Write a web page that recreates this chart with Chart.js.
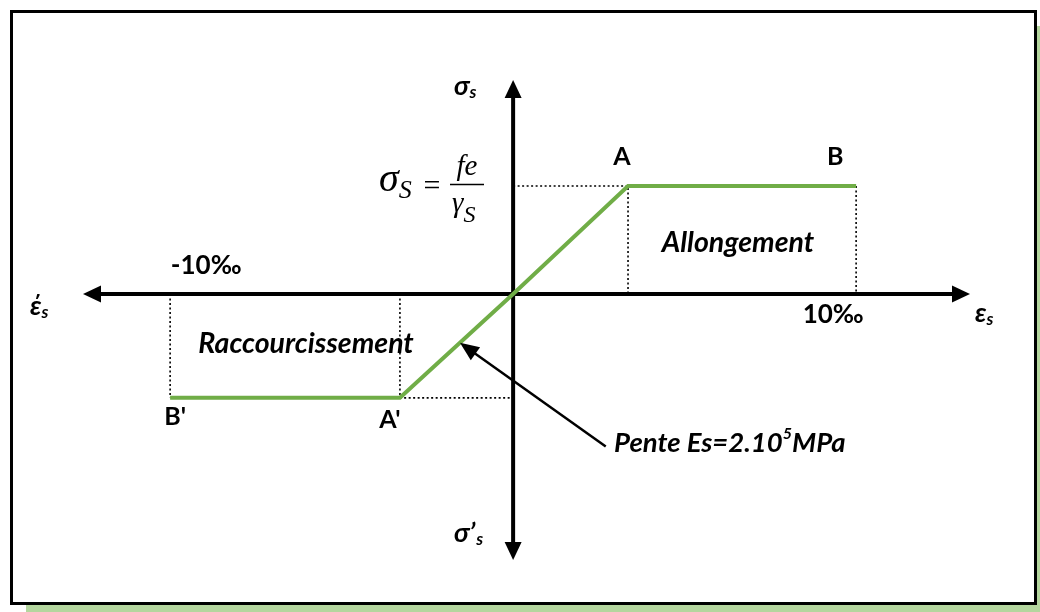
<!DOCTYPE html>
<html>
<head>
<meta charset="utf-8">
<script src="https://cdn.jsdelivr.net/npm/chart.js@4.4.1/dist/chart.umd.min.js"></script>
<style>
  html, body { margin: 0; padding: 0; background: #fff; }
  #wrap { position: relative; width: 1040px; height: 612px; overflow: hidden; }
  #frame {
    position: absolute; left: 10px; top: 10px; width: 1021px; height: 589px;
    border: 3px solid #000; background: #fff; box-shadow: 16px 16px 0 #b4d69e;
  }
  canvas { position: absolute; left: 0; top: 0; }
</style>
</head>
<body>
<div id="wrap">
  <div id="frame"></div>
  <canvas id="chart" width="1040" height="612"></canvas>
</div>
<script>
/* ===== Steel stress-strain diagram (acier) ===== */

// strain in per mille, stress relative to fe/gamma_s
const strain     = [-10, -3.3, 0, 3.35, 10];
const stress     = [-0.96, -0.96, 0, 1, 1];
const pointNames = ["B'", "A'", '', 'A', 'B'];
const tickValues = [-10, 10];
const tickLabels = ['-10‰', '10‰'];
// the "Pente" arrow: from the text to a point on the elastic branch
const slopeFrom  = [2.7, -1.41];
const slopeTo    = [-1.55, -0.45];
const xRange     = [-12.54, 13.32];
const yRange     = [-2.46, 1.98];

const SANS = 'Lato, "Open Sans", sans-serif';
const SERIF = '"Liberation Serif", "Times New Roman", serif';

// dotted guides from A, B, A', B' back to the axes
const guideSegs = [
  [[0, stress[3]], [strain[3], stress[3]], [strain[3], 0]],
  [[strain[4], stress[4]], [strain[4], 0]],
  [[strain[0], 0], [strain[0], stress[0]]],
  [[strain[1], 0], [strain[1], stress[1]], [0, stress[1]]]
];

function txt(ctx, s, x, y, font, align) {
  ctx.font = font;
  ctx.textAlign = align || 'left';
  ctx.textBaseline = 'alphabetic';
  ctx.fillText(s, x, y);
  return ctx.measureText(s).width;
}

function arrowHead(ctx, tx, ty, ang, len, half) {
  ctx.save();
  ctx.translate(tx, ty);
  ctx.rotate(ang);
  ctx.beginPath();
  ctx.moveTo(0, 0);
  ctx.lineTo(-len, -half);
  ctx.lineTo(-len, half);
  ctx.closePath();
  ctx.fill();
  ctx.restore();
}

const axesPlugin = {
  id: 'axes',
  beforeDatasetsDraw(chart) {
    const { ctx, chartArea: a, scales: { x, y } } = chart;
    const x0 = x.getPixelForValue(0), y0 = y.getPixelForValue(0);
    ctx.save();
    ctx.strokeStyle = '#000';
    ctx.fillStyle = '#000';
    ctx.lineWidth = 4;
    ctx.beginPath();
    ctx.moveTo(a.left + 14, y0); ctx.lineTo(a.right - 14, y0);
    ctx.moveTo(x0, a.top + 14); ctx.lineTo(x0, a.bottom - 14);
    ctx.stroke();
    arrowHead(ctx, a.right, y0, 0, 18, 8.5);
    arrowHead(ctx, a.left, y0, Math.PI, 18, 8.5);
    arrowHead(ctx, x0, a.top, -Math.PI / 2, 18, 8.5);
    arrowHead(ctx, x0, a.bottom, Math.PI / 2, 18, 8.5);
    ctx.restore();
  },
  afterDatasetsDraw(chart) {
    const { ctx, scales: { x, y } } = chart;
    const bold = s => `bold ${s}px ${SANS}`;
    const bi = s => `italic bold ${s}px ${SANS}`;
    ctx.save();
    ctx.fillStyle = '#000';

    // point names
    const nameOff = [[5, 27], [-10, 30], [0, 0], [-6, -21], [-21, -21]];
    pointNames.forEach((n, i) => {
      if (!n) return;
      txt(ctx, n, x.getPixelForValue(strain[i]) + nameOff[i][0],
          y.getPixelForValue(stress[i]) + nameOff[i][1], bold(25), 'center');
    });

    // strain limits
    const tickOff = [[36, -20], [-23, 29]];
    tickValues.forEach((v, i) => {
      txt(ctx, tickLabels[i], x.getPixelForValue(v) + tickOff[i][0],
          y.getPixelForValue(0) + tickOff[i][1], bold(26), 'center');
    });

    // axis names
    let w = txt(ctx, 'σ', 454, 95, bi(27));
    txt(ctx, 's', 454 + w, 98, bi(17));
    w = txt(ctx, 'σ\u2019', 454, 542, bi(27));
    txt(ctx, 's', 454 + w + 1, 545, bi(17));
    w = txt(ctx, 'έ', 30, 315, bi(27));
    txt(ctx, 's', 30 + w, 318, bi(17));
    w = txt(ctx, 'ε', 975, 322, bi(27));
    txt(ctx, 's', 975 + w, 325, bi(17));

    // zones
    txt(ctx, 'Allongement', 738, 252, bi(28.5), 'center');
    txt(ctx, 'Raccourcissement', 306, 353, bi(28.5), 'center');

    // slope arrow + text
    const fx = x.getPixelForValue(slopeFrom[0]), fy = y.getPixelForValue(slopeFrom[1]);
    const tx = x.getPixelForValue(slopeTo[0]), ty = y.getPixelForValue(slopeTo[1]);
    const ang = Math.atan2(ty - fy, tx - fx);
    ctx.strokeStyle = '#000';
    ctx.lineWidth = 2.5;
    ctx.beginPath();
    ctx.moveTo(fx, fy);
    ctx.lineTo(tx - Math.cos(ang) * 12, ty - Math.sin(ang) * 12);
    ctx.stroke();
    arrowHead(ctx, tx, ty, ang, 19, 8);
    let px = 614;
    px += txt(ctx, 'Pente Es=2.10', px, 452, bi(27.5));
    px += txt(ctx, '5', px, 439, bi(16));
    txt(ctx, 'MPa', px, 452, bi(27.5));

    // sigma_s = fe / gamma_s
    w = txt(ctx, 'σ', 379, 191, `italic 40px ${SERIF}`);
    txt(ctx, 'S', 379 + w, 198, `italic 26px ${SERIF}`);
    txt(ctx, '=', 432, 195, `30px ${SERIF}`, 'center');
    txt(ctx, 'fe', 467, 175, `italic 29px ${SERIF}`, 'center');
    ctx.lineWidth = 1.4;
    ctx.beginPath();
    ctx.moveTo(450, 184.5); ctx.lineTo(484, 184.5);
    ctx.stroke();
    w = txt(ctx, 'γ', 452, 212, `italic 29px ${SERIF}`);
    txt(ctx, 'S', 452 + w, 222, `italic 24px ${SERIF}`);
    ctx.restore();
  }
};

const pts = strain.map((v, i) => ({ x: v, y: stress[i] }));
const guideSets = guideSegs.map(seg => ({
  data: seg.map(p => ({ x: p[0], y: p[1] })),
  showLine: true,
  borderColor: '#000',
  borderWidth: 1.6,
  borderDash: [2, 2.5],
  pointRadius: 0,
  tension: 0
}));

new Chart(document.getElementById('chart').getContext('2d'), {
  type: 'scatter',
  data: {
    datasets: [{
      label: 'Diagramme contrainte-déformation',
      data: pts,
      showLine: true,
      borderColor: '#70ad47',
      borderWidth: 4,
      pointRadius: 0,
      tension: 0
    }, ...guideSets]
  },
  options: {
    responsive: false,
    animation: false,
    layout: { padding: { left: 83, right: 70, top: 80, bottom: 52 } },
    scales: {
      x: { type: 'linear', min: xRange[0], max: xRange[1], display: false },
      y: { type: 'linear', min: yRange[0], max: yRange[1], display: false }
    },
    plugins: { legend: { display: false }, tooltip: { enabled: false } }
  },
  plugins: [axesPlugin]
});
</script>
</body>
</html>
